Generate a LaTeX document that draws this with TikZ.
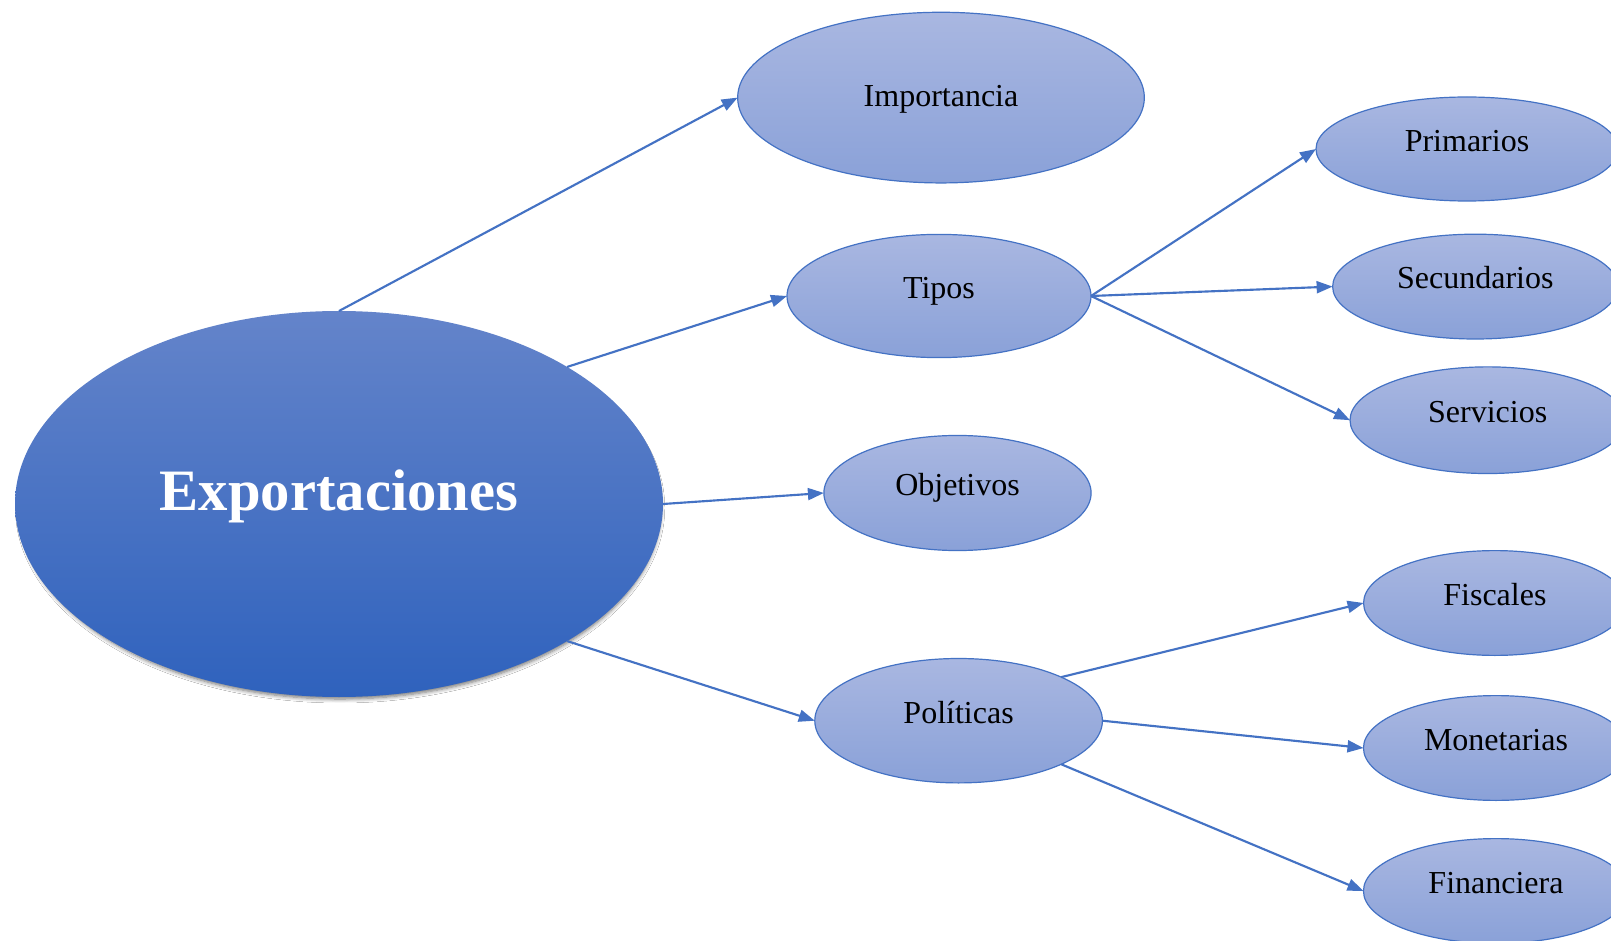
\documentclass[tikz,border=0pt]{standalone}
\usepackage{fontspec}
\setmainfont{Liberation Serif}
\usetikzlibrary{shapes.geometric,arrows.meta,shadows.blur}
\definecolor{edgeblue}{HTML}{4472C4}
\definecolor{subtop}{HTML}{A9B7E1}
\definecolor{subbot}{HTML}{8AA1D8}
\definecolor{maintop}{HTML}{6484CA}
\definecolor{mainbot}{HTML}{2F62BD}
\tikzset{
  subnode/.style={ellipse, draw=edgeblue, line width=0.9pt, top color=subtop, bottom color=subbot,
    inner sep=0pt, outer sep=0pt, font=\fontsize{24}{28}\selectfont, text height=16pt, text depth=12.4pt},
  mainnode/.style={ellipse, top color=maintop, bottom color=mainbot, inner sep=0pt, outer sep=0pt,
    text=white, font=\fontsize{44}{50}\selectfont\bfseries, text height=34pt, text depth=24pt,
    minimum width=486pt, minimum height=289.5pt,
    blur shadow={shadow xshift=0.8pt, shadow yshift=-3pt, shadow scale=0.99, shadow blur radius=3pt, shadow blur steps=6, shadow opacity=55}},
  conn/.style={draw=edgeblue, line width=1.6pt, -{Triangle[length=12pt,width=9pt]}}
}
\begin{document}
\begin{tikzpicture}[x=0.75pt,y=-0.75pt]
\clip (0,0) rectangle (1611,941);
\fill[white] (0,0) rectangle (1611,941);

\node[mainnode] (main) at (339,504) {Exportaciones};

\node[subnode, minimum width=305pt, minimum height=128pt, text height=16pt, text depth=3pt] (imp) at (941,97.6) {Importancia};
\node[subnode, minimum width=228pt, minimum height=92.4pt] (tip) at (939,296) {Tipos};
\node[subnode, minimum width=200.4pt, minimum height=86.3pt] (obj) at (957.5,493) {Objetivos};
\node[subnode, minimum width=215.7pt, minimum height=93.3pt] (pol) at (958.6,720.7) {Políticas};

\node[subnode, minimum width=226.5pt, minimum height=78pt] (pri) at (1467,149) {Primarios};
\node[subnode, minimum width=214pt, minimum height=78.6pt] (sec) at (1475.3,286.6) {Secundarios};
\node[subnode, minimum width=206.5pt, minimum height=80pt] (ser) at (1487.7,420.2) {Servicios};
\node[subnode, minimum width=197pt, minimum height=78.6pt] (fis) at (1494.9,603) {Fiscales};
\node[subnode, minimum width=198.8pt, minimum height=78.6pt] (mon) at (1496,748) {Monetarias};
\node[subnode, minimum width=198.8pt, minimum height=78.6pt] (fin) at (1496,891) {Financiera};

\draw[conn] (main.north) -- (imp.west);
\draw[conn] (main.31) -- (tip.west);
\draw[conn] (main.east) -- (obj.west);
\draw[conn] (main.-31) -- (pol.west);

\draw[conn] (tip.east) -- (pri.west);
\draw[conn] (tip.east) -- (sec.west);
\draw[conn] (tip.east) -- (ser.west);

\draw[conn] (pol.23) -- (fis.west);
\draw[conn] (pol.east) -- (mon.west);
\draw[conn] (pol.-23) -- (fin.west);
\end{tikzpicture}
\end{document}
